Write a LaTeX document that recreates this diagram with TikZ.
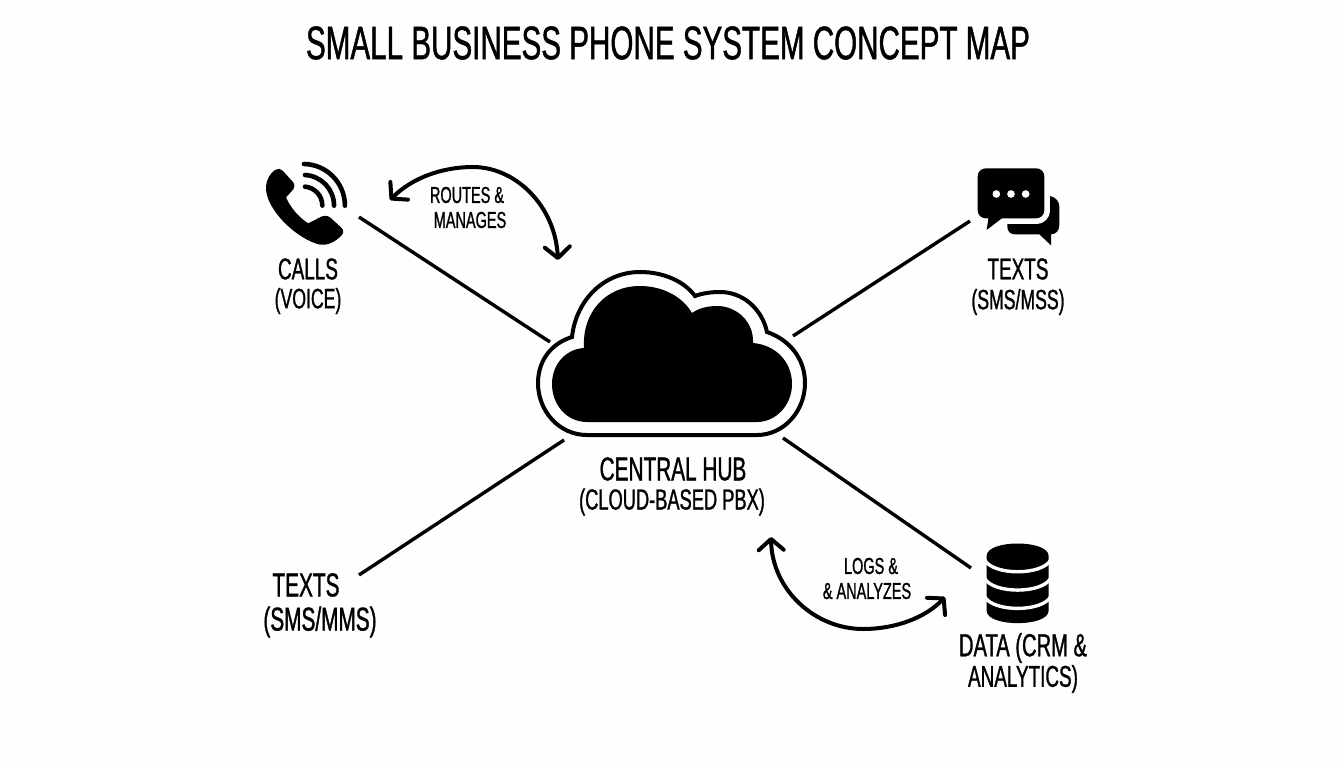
\documentclass[tikz,border=0pt]{standalone}
\usepackage{fontspec}
\setmainfont[FakeStretch=0.63,FakeBold=1]{Liberation Sans}
\usetikzlibrary{arrows.meta}
\definecolor{ink}{HTML}{000000}
\definecolor{paper}{HTML}{FEFEFE}
\tikzset{
  every node/.style={inner sep=0pt,text=ink},
  titletext/.style={font=\fontsize{47}{50}\selectfont},
  maintext/.style={font=\fontsize{30}{32}\selectfont},
  largetext/.style={font=\fontsize{33}{36}\selectfont},
  subtext/.style={font=\fontsize{28}{30}\selectfont},
  smalltext/.style={font=\fontsize{23}{26}\selectfont},
  spoke/.style={draw=ink,line width=3.4pt},
  flow/.style={draw=ink,line width=4pt,{Straight Barb[length=11pt,width=25pt,line width=4pt,round]}-{Straight Barb[length=11pt,width=25pt,line width=4pt,round]}},
  zoomed/.style={x=0.3333pt,y=-0.3333pt},
}
\begin{document}
\begin{tikzpicture}[x=1pt,y=-1pt]
\useasboundingbox (0,0) rectangle (1344,768);
\fill[paper] (0,0) rectangle (1344,768);

\node[titletext] (title) at (668,43) {SMALL BUSINESS PHONE SYSTEM CONCEPT MAP};

% cloud
\draw[ink,line width=4pt] (587,435) .. controls (559,435) and (538,411) .. (538,383) .. controls (538,360) and (552,343) .. (572,337) .. controls (576,300) and (604,272) .. (640,272) .. controls (663,272) and (684,281) .. (695,296) .. controls (703,293) and (712,292) .. (720,292) .. controls (743,292) and (762,309) .. (767,332) .. controls (790,340) and (805,359) .. (805,383) .. controls (805,411) and (784,435) .. (757,435) -- cycle;
\fill[ink] (587,422) .. controls (566,422) and (552,404) .. (552,384) .. controls (552,364) and (566,349) .. (584,348) .. controls (582,312) and (606,286) .. (640,286) .. controls (662,286) and (682,296) .. (692,313) .. controls (699,308) and (708,306) .. (717,306) .. controls (737,306) and (754,322) .. (753,343) .. controls (776,345) and (792,362) .. (792,384) .. controls (792,405) and (776,422) .. (757,422) -- cycle;

% phone icon
\begin{scope}[shift={(240,140)},zoomed]
\fill[ink] (105,90) .. controls (112,84) and (122,86) .. (128,92) -- (158,125) .. controls (165,133) and (165,142) .. (160,148) -- (138,172) .. controls (150,200) and (175,232) .. (205,250) -- (240,232) .. controls (250,226) and (262,226) .. (270,232) -- (303,262) .. controls (312,270) and (312,280) .. (303,288) .. controls (285,306) and (262,317) .. (240,314) .. controls (175,300) and (75,210) .. (78,140) .. controls (79,120) and (90,100) .. (105,90) -- cycle;
\draw[ink,line width=4.6pt,line cap=round] (195,140) arc[start angle=-85,end angle=0,radius=57];
\draw[ink,line width=4.6pt,line cap=round] (195,105) arc[start angle=-87,end angle=0,radius=92];
\draw[ink,line width=4.6pt,line cap=round] (192,72) arc[start angle=-89,end angle=0,radius=125];
\end{scope}

% chat icon
\begin{scope}[shift={(950,150)},zoomed]
\fill[ink] (172,120) -- (296,120) -- (300,138) .. controls (318,142) and (328,155) .. (328,170) -- (328,225) .. controls (328,242) and (318,253) .. (303,253) -- (303,286) -- (268,253) -- (195,253) .. controls (180,253) and (172,243) .. (172,230) -- cycle;
\draw[paper,line width=11.3pt,fill=paper,rounded corners=8pt] (83,55) rectangle (283,205);
\draw[paper,line width=6pt,fill=paper] (116,200) -- (110,240) -- (162,200) -- cycle;
\fill[ink,rounded corners=8pt] (83,55) rectangle (283,205);
\fill[ink] (116,200) -- (110,240) -- (162,200) -- cycle;
\foreach \px in {139,183,227} \fill[paper] (\px,132) circle[radius=11.5];
\end{scope}

% database icon
\begin{scope}[shift={(750,520)},zoomed]
\fill[ink] (710,108) .. controls (710,58) and (896,58) .. (896,108) -- (896,272) .. controls (896,322) and (710,322) .. (710,272) -- cycle;
\foreach \py in {120,175,230}
  \draw[paper,line width=3.4pt] (704,\py) .. controls (730,{\py+47}) and (876,{\py+47}) .. (902,\py);
\end{scope}

% labels
\node[maintext] (callsa) at (308,269) {CALLS};
\node[subtext] (callsb) at (308,301) {(VOICE)};
\node[maintext] (textsa) at (1018,269) {TEXTS};
\node[subtext] (textsb) at (1018,302) {(SMS/MSS)};
\node[smalltext] (routesa) at (467,195) {ROUTES \&};
\node[smalltext] (routesb) at (470,220) {MANAGES};
\node[largetext] (huba) at (673,469) {CENTRAL HUB};
\node[font=\fontsize{29}{32}\selectfont] (hubb) at (672,502) {(CLOUD-BASED PBX)};
\node[largetext] (lefta) at (306,585) {TEXTS};
\node[largetext] (leftb) at (320,622) {(SMS/MMS)};
\node[smalltext] (logsa) at (871,566) {LOGS \&};
\node[smalltext] (logsb) at (867,591) {\& ANALYZES};
\node[font=\fontsize{32}{34}\selectfont] (dataa) at (1023,648) {DATA (CRM \&};
\node[maintext] (datab) at (1023,679) {ANALYTICS)};

% connectors
\coordinate (callsport) at (359,217);
\coordinate (hubnw) at (550,342);
\coordinate (textsport) at (970,221);
\coordinate (hubne) at (793,336);
\coordinate (leftport) at (359,575);
\coordinate (hubsw) at (564,440);
\coordinate (dataport) at (971,568);
\coordinate (hubse) at (783,438);
\draw[spoke] (callsport) -- (hubnw);
\draw[spoke] (textsport) -- (hubne);
\draw[spoke] (leftport) -- (hubsw);
\draw[spoke] (dataport) -- (hubse);

\coordinate (routesstart) at (390,200);
\coordinate (routestop) at (473,167);
\coordinate (routesend) at (558,260);
\coordinate (logsstart) at (771,537);
\coordinate (logslow) at (863,629);
\coordinate (logsend) at (945,597);
\draw[flow] (routesstart) .. controls (412,178) and (442,167) .. (routestop) .. controls (515,167) and (555,205) .. (routesend);
\draw[flow] (logsstart) .. controls (772,590) and (815,629) .. (logslow) .. controls (895,629) and (925,618) .. (logsend);
\end{tikzpicture}
\end{document}
